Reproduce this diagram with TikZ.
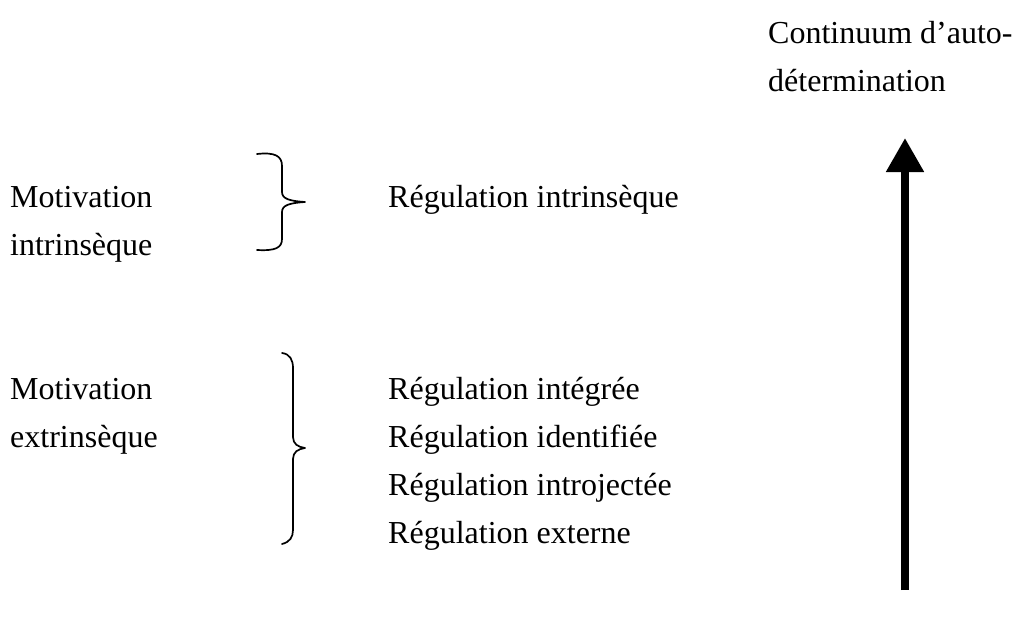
\documentclass[tikz,border=0pt]{standalone}
\usepackage{fontspec}
\setmainfont{Liberation Serif}
\usetikzlibrary{arrows.meta}
\begin{document}
\begin{tikzpicture}[x=1pt,y=-1pt,
  lbl/.style={anchor=base west,inner sep=0pt,font=\fontsize{32}{38}\selectfont},
  bracestroke/.style={line width=1.7pt,line cap=round,line join=round},
  axis/.style={line width=8pt,-{Triangle[width=36pt,length=34pt]}}]
\useasboundingbox (0,0) rectangle (1026,618);

% axis label
\node[lbl] (cont1) at (768,44) {Continuum d’auto-};
\node[lbl] (cont2) at (768,92) {détermination};

% left column
\node[lbl] (mi1) at (10,207) {Motivation};
\node[lbl] (mi2) at (10,255) {intrinsèque};
\node[lbl] (me1) at (10,399) {Motivation};
\node[lbl] (me2) at (10,447) {extrinsèque};

% right column
\node[lbl] (r0) at (388,207) {Régulation intrinsèque};
\node[lbl] (r1) at (388,399) {Régulation intégrée};
\node[lbl] (r2) at (388,447) {Régulation identifiée};
\node[lbl] (r3) at (388,495) {Régulation introjectée};
\node[lbl] (r4) at (388,543) {Régulation externe};

% upper brace
\draw[bracestroke] (257,154) .. controls (275,152) and (282,156) .. (282,166)
  -- (282,192) .. controls (282,199) and (290,201) .. (305,202)
  .. controls (290,203) and (282,205) .. (282,212)
  -- (282,239) .. controls (282,248) and (275,251) .. (257,250);

% lower brace
\draw[bracestroke] (282,353) .. controls (290,354) and (293,360) .. (293,368)
  -- (293,437) .. controls (293,444) and (298,447) .. (305,448)
  .. controls (298,449) and (293,452) .. (293,459)
  -- (293,530) .. controls (293,537) and (290,542) .. (282,544);

% continuum arrow
\coordinate (abot) at (905,590);
\coordinate (atop) at (905,138);
\draw[axis] (abot) -- (atop);
\end{tikzpicture}
\end{document}
